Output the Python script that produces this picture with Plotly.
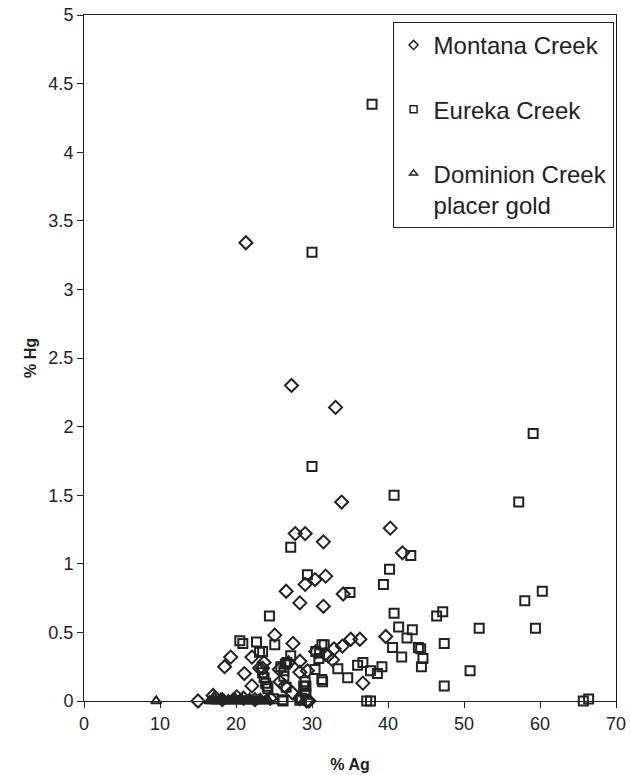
import plotly.graph_objects as go

# Montana Creek (diamonds): % Ag, % Hg
montana_ag = [21.3, 27.3, 33.1, 33.9, 40.3, 27.8, 29.1, 31.5, 41.9, 29.1, 30.4, 31.8,
              26.6, 34.1, 28.4, 31.5, 39.7, 35.1, 36.3, 34.0, 32.9, 32.1, 32.7, 36.7,
              25.1, 27.5, 19.3, 22.1, 18.5, 21.1, 23.1, 22.1, 26.9, 28.4, 25.7, 25.8,
              27.4, 28.4, 29.6, 28.4, 29.4, 30.5, 31.8, 23.7, 23.5, 26.4, 15.0, 17.0,
              20.1, 24.5, 22.5, 29.3, 21.0, 18.2]
montana_hg = [3.34, 2.30, 2.14, 1.45, 1.26, 1.22, 1.22, 1.16, 1.08, 0.85, 0.885, 0.91,
              0.80, 0.78, 0.715, 0.69, 0.47, 0.45, 0.45, 0.40, 0.38, 0.33, 0.30, 0.13,
              0.48, 0.42, 0.32, 0.32, 0.25, 0.20, 0.24, 0.11, 0.28, 0.29, 0.23, 0.14,
              0.06, 0.016, 0.00, 0.21, 0.22, 0.36, 0.34, 0.28, 0.24, 0.11, 0.00, 0.04,
              0.03, 0.02, 0.01, 0.00, 0.02, 0.01]

# Eureka Creek (squares)
eureka_ag = [37.9, 30.0, 30.0, 40.8, 27.2, 43.0, 40.2, 29.4, 39.4, 35.0, 40.8, 46.4,
             47.2, 41.4, 43.2, 42.5, 40.6, 41.8, 44.0, 44.3, 44.6, 44.4, 47.4, 47.4,
             50.8, 52.0, 57.2, 59.1, 58.0, 60.3, 59.4, 65.7, 66.4, 31.6, 30.5, 31.0,
             30.9, 33.4, 34.7, 31.4, 31.3, 36.0, 36.7, 37.7, 38.6, 39.2, 37.2, 37.7,
             24.4, 20.5, 20.9, 22.7, 23.1, 25.1, 27.2, 23.5, 26.5, 26.3, 26.3, 23.7,
             23.9, 23.5, 24.1, 26.6, 26.1, 24.9, 29.1, 29.2, 29.1, 28.6, 30.4, 31.3,
             26.7, 25.9, 24.2, 28.9, 29.2, 28.4, 26.2]
eureka_hg = [4.35, 3.27, 1.71, 1.50, 1.12, 1.06, 0.96, 0.92, 0.85, 0.79, 0.64, 0.62,
             0.65, 0.54, 0.52, 0.46, 0.39, 0.32, 0.39, 0.38, 0.31, 0.25, 0.42, 0.11,
             0.22, 0.53, 1.45, 1.95, 0.73, 0.80, 0.53, 0.00, 0.015, 0.41, 0.36, 0.35,
             0.31, 0.235, 0.17, 0.14, 0.157, 0.26, 0.28, 0.22, 0.20, 0.25, 0.00, 0.00,
             0.62, 0.44, 0.42, 0.43, 0.355, 0.41, 0.33, 0.36, 0.27, 0.22, 0.18, 0.17,
             0.13, 0.205, 0.108, 0.10, 0.01, 0.016, 0.14, 0.108, 0.06, 0.02, 0.23, 0.41,
             0.28, 0.25, 0.09, 0.11, 0.05, 0.006, 0.00]

# Dominion Creek placer gold (triangles)
dominion_ag = [9.5, 16.5, 16.8, 17.0, 17.3, 17.4, 17.7, 17.9, 18.2, 18.3, 18.6, 18.9,
               19.0, 19.2, 19.5, 19.8, 19.9, 20.2, 20.3, 20.6, 20.8, 21.1, 21.2, 21.5,
               21.7, 21.9, 22.2, 22.4, 22.6, 22.9, 23.0, 23.3, 23.5, 23.8, 24.0, 24.3,
               17.1, 18.0, 19.6, 20.5, 21.8, 23.2]
dominion_hg = [0.00, 0.00, 0.00, 0.01, 0.00, 0.00, 0.00, 0.01, 0.00, 0.00, 0.00, 0.00,
               0.01, 0.00, 0.00, 0.00, 0.02, 0.00, 0.00, 0.00, 0.01, 0.00, 0.00, 0.00,
               0.00, 0.01, 0.00, 0.00, 0.00, 0.00, 0.01, 0.00, 0.00, 0.00, 0.01, 0.00,
               0.03, 0.02, 0.02, 0.01, 0.02, 0.02]

x_ticks = [0, 10, 20, 30, 40, 50, 60, 70]
y_ticks = [0, 0.5, 1, 1.5, 2, 2.5, 3, 3.5, 4, 4.5, 5]

series_names = ["Montana Creek", "Eureka Creek", "Dominion Creek<br>placer gold"]
symbols = ["diamond-open", "square-open", "triangle-up-open"]

ink = "#222222"
fig = go.Figure()
data_sets = [(montana_ag, montana_hg), (eureka_ag, eureka_hg), (dominion_ag, dominion_hg)]
marker_sizes = [10, 9, 9]
for (xs, ys), sym, msz in zip(data_sets, symbols, marker_sizes):
    fig.add_trace(go.Scatter(
        x=xs, y=ys, mode="markers", showlegend=False, cliponaxis=False,
        marker=dict(symbol=sym, size=msz, color=ink, line=dict(width=2, color=ink))))

# legend entries (smaller symbols, as in the original legend)
for i, (name, sym) in enumerate(zip(series_names, symbols)):
    fig.add_trace(go.Scatter(
        x=[None], y=[None], mode="markers", name=name, legendgroup=f"g{i}",
        marker=dict(symbol=sym, size=7, color=ink, line=dict(width=1.5, color=ink))))

axis_common = dict(showline=True, linecolor=ink, linewidth=1, mirror=True,
                   ticks="outside", ticklen=6, tickcolor=ink, showgrid=False,
                   zeroline=False, automargin=False,
                   tickfont=dict(size=18, color=ink))

fig.update_layout(
    width=630, height=775,
    margin=dict(l=84, r=14, t=15, b=74),
    paper_bgcolor="white", plot_bgcolor="white",
    font=dict(family="Liberation Sans, Arial, sans-serif", color=ink),
    xaxis=dict(range=[0, 70], tickvals=x_ticks, ticktext=[str(v) for v in x_ticks],
               title=dict(text="<b>% Ag</b>", font=dict(size=16), standoff=26),
               **axis_common),
    yaxis=dict(range=[0, 5], tickvals=y_ticks, ticktext=[f"{v:g}" for v in y_ticks],
               title=dict(text="<b>% Hg</b>", font=dict(size=16), standoff=7),
               **axis_common),
    legend=dict(x=0.58, y=0.99, xanchor="left", yanchor="top",
                bordercolor=ink, borderwidth=1, bgcolor="white",
                font=dict(size=24), tracegroupgap=30, valign="top",
                itemwidth=30),
    showlegend=True,
)

fig.write_html("out.html", config={"displayModeBar": False},
               post_script="document.body.style.margin='0px';document.body.style.overflow='hidden';")
